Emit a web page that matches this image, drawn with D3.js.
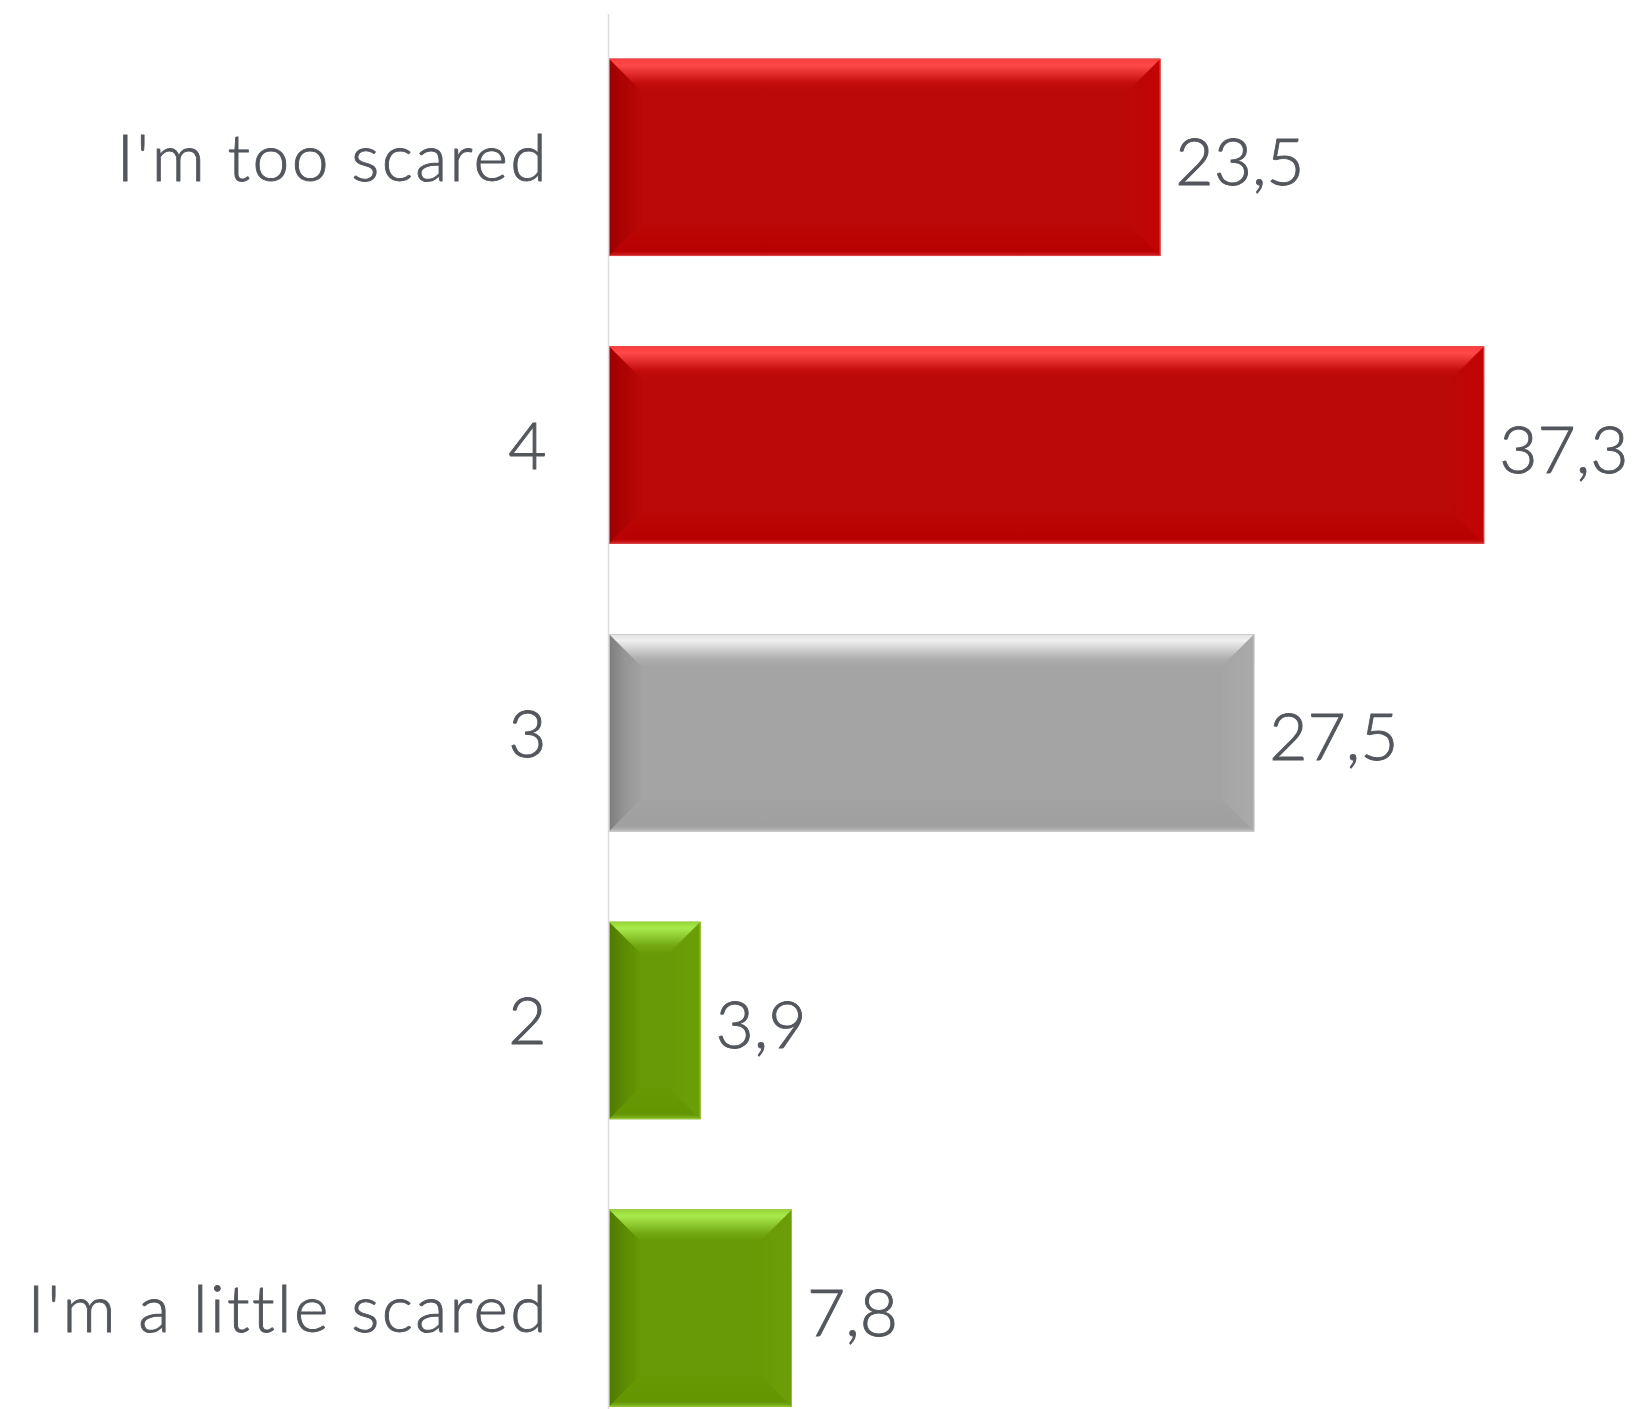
<!DOCTYPE html>
<html>
<head>
<meta charset="utf-8">
<script src="https://cdn.jsdelivr.net/npm/d3@7/dist/d3.min.js"></script>
<style>
  html, body { margin: 0; padding: 0; background: #ffffff; }
  svg { display: block; }
</style>
</head>
<body>
<svg id="chart" width="1639" height="1409"></svg>
<script>
// Survey answers, from most to least scared
const categories = ["I'm too scared", "4", "3", "2", "I'm a little scared"];
const values = [23.5, 37.3, 27.5, 3.9, 7.8];
const tones = ["red", "red", "gray", "green", "green"];

// Bevelled fill palettes: base face plus the four edge facets
const palettes = {
  red: {
    base: "#bb0808", stroke: "#e04a4a",
    top: [[0, "#ff3a3a"], [0.2, "#ff4a4a"], [0.75, "#c40c0c"], [1, "#bb0808"]],
    left: [[0, "#9a0000"], [0.45, "#ad0303"], [1, "#b90707"]],
    right: [[0, "#bd0707"], [1, "#c20303"]],
    bottom: [[0, "#bb0707"], [0.85, "#b80000"], [1, "#d42424"]]
  },
  gray: {
    base: "#a4a4a4", stroke: "#c6c6c6",
    top: [[0, "#e2e2e2"], [0.2, "#f0f0f0"], [0.75, "#b0b0b0"], [1, "#a4a4a4"]],
    left: [[0, "#7c7c7c"], [0.45, "#949494"], [1, "#a2a2a2"]],
    right: [[0, "#a5a5a5"], [1, "#aaaaaa"]],
    bottom: [[0, "#a3a3a3"], [0.85, "#a0a0a0"], [1, "#bcbcbc"]]
  },
  green: {
    base: "#679a06", stroke: "#98cc3c",
    top: [[0, "#96d636"], [0.2, "#a8ea4c"], [0.75, "#72a812"], [1, "#679a06"]],
    left: [[0, "#4e7a00"], [0.45, "#5c8a02"], [1, "#669905"]],
    right: [[0, "#679a06"], [1, "#6c9f06"]],
    bottom: [[0, "#679905"], [0.85, "#649603"], [1, "#86bc26"]]
  }
};

const margin = { left: 609, top: 13.5 };
const plotW = 938.5, plotH = 1438.5;
const labelFont = "Lato, 'Open Sans', sans-serif";
const textColor = "#53575d";

const svg = d3.select("#chart");
const defs = svg.append("defs");

// Gradients for each palette and facet
const facetDirs = {
  top: [0, 0, 0, 1],
  bottom: [0, 0, 0, 1],
  left: [0, 0, 1, 0],
  right: [0, 0, 1, 0]
};
Object.entries(palettes).forEach(([name, p]) => {
  Object.entries(facetDirs).forEach(([facet, d]) => {
    const g = defs.append("linearGradient")
      .attr("id", `g-${name}-${facet}`)
      .attr("x1", d[0]).attr("y1", d[1]).attr("x2", d[2]).attr("y2", d[3]);
    p[facet].forEach(([o, c]) => g.append("stop").attr("offset", o).attr("stop-color", c));
  });
});

const x = d3.scaleLinear().domain([0, 40]).range([margin.left, margin.left + plotW]);
const y = d3.scaleBand()
  .domain(categories)
  .range([margin.top, margin.top + plotH])
  .paddingInner(0.314)
  .paddingOuter(0.157);

const data = categories.map((c, i) => ({ cat: c, value: values[i], tone: tones[i] }));
const fmt = v => d3.format(".1f")(v).replace(".", ",");

const bars = svg.append("g").attr("class", "bars")
  .selectAll("g").data(data).join("g");

const bevel = 32;

bars.each(function (d) {
  const g = d3.select(this);
  const p = palettes[d.tone];
  const x0 = x(0), x1 = x(d.value);
  const y0 = y(d.cat), y1 = y0 + y.bandwidth();
  const bx = Math.min(bevel, (x1 - x0) / 2);
  const by = Math.min(bevel, (y1 - y0) / 2);

  g.append("rect")
    .attr("x", x0).attr("y", y0)
    .attr("width", x1 - x0).attr("height", y1 - y0)
    .attr("fill", p.base);

  const facets = {
    top: [[x0, y0], [x1, y0], [x1 - bx, y0 + by], [x0 + bx, y0 + by]],
    bottom: [[x0 + bx, y1 - by], [x1 - bx, y1 - by], [x1, y1], [x0, y1]],
    left: [[x0, y0], [x0 + bx, y0 + by], [x0 + bx, y1 - by], [x0, y1]],
    right: [[x1 - bx, y0 + by], [x1, y0], [x1, y1], [x1 - bx, y1 - by]]
  };
  ["left", "right", "bottom", "top"].forEach(f => {
    g.append("path")
      .attr("d", d3.line()(facets[f]) + "Z")
      .attr("fill", `url(#g-${d.tone}-${f})`);
  });

  g.append("rect")
    .attr("x", x0 + 0.5).attr("y", y0 + 0.5)
    .attr("width", x1 - x0 - 1).attr("height", y1 - y0 - 1)
    .attr("fill", "none")
    .attr("stroke", p.stroke)
    .attr("stroke-width", 1)
    .attr("stroke-opacity", 0.8);
});

// Light text weight, thickened slightly with a same-colour outline
function labelStyle(sel) {
  sel.attr("fill", textColor)
    .attr("stroke", textColor)
    .attr("stroke-width", 0.9)
    .style("font-family", labelFont)
    .style("font-weight", 300)
    .style("font-size", "66px");
}

// Category axis
const axis = svg.append("g")
  .attr("transform", `translate(${x(0) - 1},0)`)
  .call(d3.axisLeft(y).tickSize(0).tickPadding(59));
axis.select(".domain").attr("stroke", "#dcdcdc").attr("stroke-width", 1.5);
axis.selectAll(".tick text")
  .call(labelStyle)
  .style("letter-spacing", "2.4px")
  .attr("dy", "0.36em");

// Value labels
svg.append("g").attr("class", "values")
  .selectAll("text").data(data).join("text")
  .attr("x", d => x(d.value) + 15)
  .attr("y", d => y(d.cat) + y.bandwidth() / 2)
  .attr("dy", "0.42em")
  .call(labelStyle)
  .text(d => fmt(d.value));
</script>
</body>
</html>
